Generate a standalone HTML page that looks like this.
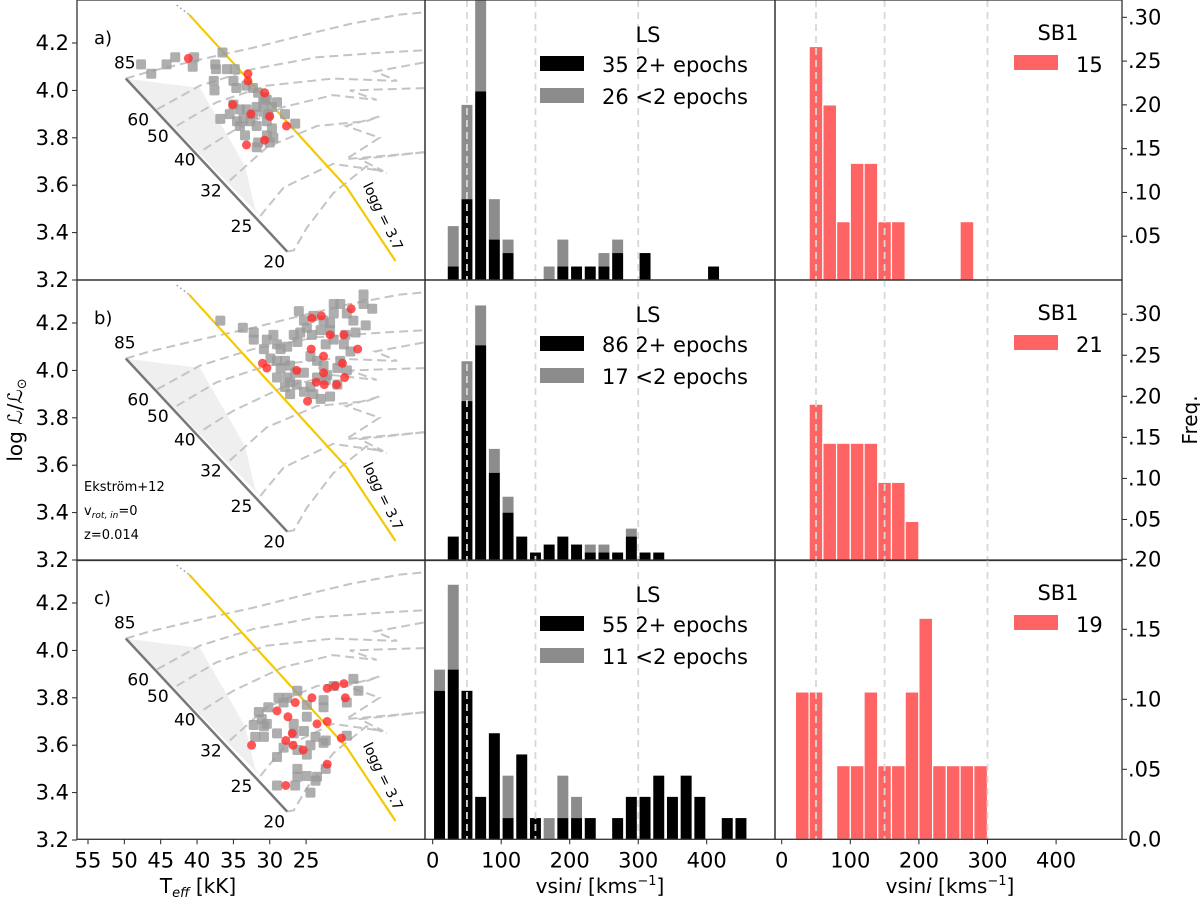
<!DOCTYPE html>
<html><head><meta charset="utf-8"><style>
html,body{margin:0;padding:0;background:#fff}
svg{display:block;font-family:"DejaVu Sans","Liberation Sans",sans-serif}
</style></head><body>
<svg id="fig" width="1200" height="903" viewBox="0 0 1200 903" xmlns="http://www.w3.org/2000/svg">
<defs>
<clipPath id="clipL0"><rect x="77" y="0" width="348" height="280"/></clipPath>
<clipPath id="clipL1"><rect x="77" y="280" width="348" height="280"/></clipPath>
<clipPath id="clipL2"><rect x="77" y="560" width="348" height="279"/></clipPath>
<clipPath id="clipM0"><rect x="425" y="0" width="350" height="280"/></clipPath>
<clipPath id="clipM1"><rect x="425" y="280" width="350" height="280"/></clipPath>
<clipPath id="clipM2"><rect x="425" y="560" width="350" height="279"/></clipPath>
</defs>
<g id="layer"></g>
<text transform="translate(22,420) rotate(-90)" text-anchor="middle" font-size="20">log <tspan font-style="italic">ℒ</tspan>/<tspan font-style="italic">ℒ</tspan><tspan font-size="13" dy="4">⊙</tspan></text>
<text transform="translate(1197,420) rotate(-90)" text-anchor="middle" font-size="20">Freq.</text>
<text x="198" y="893" text-anchor="middle" font-size="20">T<tspan font-size="13" dy="4" font-style="italic">eff</tspan><tspan dy="-4"> [kK]</tspan></text>
<text x="600" y="893" text-anchor="middle" font-size="20">vsin<tspan font-style="italic">i</tspan> [kms<tspan font-size="13" dy="-8">−1</tspan><tspan dy="8">]</tspan></text>
<text x="950" y="893" text-anchor="middle" font-size="20">vsin<tspan font-style="italic">i</tspan> [kms<tspan font-size="13" dy="-8">−1</tspan><tspan dy="8">]</tspan></text>
</svg>
<script>
// ---------- DATA ----------
const binWidth = 20;
const lsBlackA = [0,1,6,14,3,2,0,0,0,1,1,1,1,2,0,2,0,0,0,0,1,0,0,0];
const lsGrayA  = [0,3,7,7,3,1,0,0,1,2,0,0,1,1,0,0,0,0,0,0,0,0,0,0];
const lsBlackB = [0,3,20,27,11,6,3,1,2,3,2,1,1,1,3,1,1,0,0,0,0,0,0,0];
const lsGrayB  = [0,0,5,5,3,2,0,0,0,0,0,1,1,0,1,0,0,0,0,0,0,0,0,0];
const lsBlackC = [7,8,7,2,5,1,4,1,0,1,1,1,0,1,2,2,3,2,3,2,0,1,1,0];
const lsGrayC  = [1,4,0,0,0,2,0,0,1,2,1,0,0,0,0,0,0,0,0,0,0,0,0,0];
const lsTotals = [65,103,66];
const sb1A = [0,0,4,3,1,2,2,1,1,0,0,0,0,1,0,0];
const sb1B = [0,0,4,3,3,3,3,2,2,1,0,0,0,0,0,0];
const sb1C = [0,2,2,0,1,1,2,1,1,2,3,1,1,1,1,0];
const sb1Totals = [15,21,19];
const lsLegendBlack = ["35 2+ epochs","86 2+ epochs","55 2+ epochs"];
const lsLegendGray  = ["26 <2 epochs","17 <2 epochs","11 <2 epochs"];
const sb1Legend = ["15","21","19"];
const refLines = [50,150,300];
const vTicks = [0,100,200,300,400];
const teffTicks = [55,50,45,40,35,30,25];
const lumTicks = [4.2,4.0,3.8,3.6,3.4,3.2];
const freqTicksAB = [0.05,0.10,0.15,0.20,0.25,0.30];
const freqTickLabelsAB = [".05",".10",".15",".20",".25",".30"];
const freqTicksC = [0,0.05,0.10,0.15,0.20];
const freqTickLabelsC = ["0.0",".05",".10",".15",".20"];
const panelLetters = ["a)","b)","c)"];
const zamsT = [49.8,27.6];
const zamsL = [4.05,3.32];
const massLabels = ["85","60","50","40","32","25","20"];
const massT = [49.8,45.5,42.8,39.1,35.5,31.3,27.6];
const massL = [4.05,3.92,3.85,3.75,3.62,3.47,3.32];
const tracksT = [
 [49.8,46.5,39.6,32.3,25.8,19.0,12.1,8.4],
 [45.5,39.6,32.3,23.5,14.4,8.4],
 [42.8,37.3,30.4,21.3,12.5,15.5,8.4],
 [39.1,35.0,28.1,21.3,15.3,19.0,8.4],
 [35.5,30.4,23.5,16.7,14.9,19.5,14.9,19.5,8.4],
 [31.3,28.1,21.3,14.4,17.6,8.4],
 [27.6,26.7,24.9,21.3,16.7,13.9]];
const tracksL = [
 [4.05,4.08,4.13,4.18,4.23,4.28,4.32,4.33],
 [3.92,4.02,4.09,4.14,4.16,4.17],
 [3.85,3.95,4.02,4.05,4.04,4.08,4.12],
 [3.75,3.83,3.93,3.98,3.96,4.00,4.01],
 [3.62,3.76,3.85,3.87,3.89,3.85,3.80,3.71,3.74],
 [3.47,3.59,3.69,3.66,3.71,3.74],
 [3.32,3.325,3.42,3.565,3.68,3.65]];
const shadeT = [49.8,39.6,33.4,32.0,31.3];
const shadeL = [4.05,4.01,3.68,3.50,3.47];
const loggT = [41.1,19.4,12.7];
const loggL = [4.32,3.59,3.28];
const loggDotT = [42.8,41.1];
const loggDotL = [4.36,4.32];
const grayA_T=[47.7,46.3,44.2,43.0,40.4,40.6,37.5,37.4,35.9,34.8,37.7,37.6,35.0,34.6,33.2,32.3,31.6,36.5,30.4,30.9,31.8,35.0,34.1,35.5,36.8,33.2,32.3,30.9,29.7,33.6,34.5,32.7,31.8,34.1,30.4,29.7,33.4,30.4,29.5,30.0,31.6,31.8,29.0,27.9,26.5,30.7,30.2];
const grayA_L=[4.11,4.07,4.11,4.14,4.14,4.10,4.11,4.09,4.09,4.09,4.04,4.00,4.04,4.01,4.02,4.01,3.99,4.16,3.96,3.95,3.93,3.94,3.92,3.90,3.88,3.92,3.90,3.91,3.93,3.88,3.87,3.87,3.85,3.85,3.87,3.84,3.81,3.81,3.80,3.78,3.78,3.76,3.95,3.90,3.86,3.97,3.90];
const redA_T=[41.2,33.0,33.0,30.7,35.1,32.6,30.0,27.7,33.2,30.7];
const redA_L=[4.135,4.07,4.04,3.99,3.94,3.90,3.89,3.85,3.77,3.79];
const grayB_T=[36.8,33.7,32.2,32.2,30.4,30.8,29.5,29.0,28.5,29.9,29.0,27.9,27.6,26.7,26.2,25.8,24.9,24.2,26.0,25.3,24.0,22.6,23.0,22.3,21.2,21.7,21.2,20.3,21.2,19.4,18.5,17.1,17.1,15.9,18.2,19.8,18.9,20.3,20.7,19.4,23.5,24.4,22.6,22.1,22.3,25.3,26.5,27.6,27.2,27.9,26.3,24.4,25.3,27.2,24.0,23.0,21.7,20.7,23.5,29.0,28.5,27.2,19.6,16.8,21.7];
const grayB_L=[4.21,4.18,4.16,4.13,4.13,4.09,4.15,4.11,4.09,4.05,4.04,4.04,4.10,4.15,4.12,4.16,4.18,4.15,4.25,4.21,4.23,4.21,4.17,4.11,4.13,4.17,4.24,4.28,4.28,4.24,4.21,4.32,4.28,4.26,4.16,4.11,4.08,4.04,4.01,4.00,4.04,4.06,4.02,3.98,3.96,3.99,3.99,3.97,3.95,3.93,3.94,3.93,3.91,3.90,3.90,3.88,3.89,3.94,3.97,3.97,4.01,4.02,4.15,4.19,4.20];
const redB_T=[24.2,22.9,18.8,21.7,19.8,24.3,22.6,17.9,20.0,31.0,30.4,26.3,22.6,19.7,23.6,22.5,20.8,24.8];
const redB_L=[4.22,4.23,4.26,4.15,4.15,4.09,4.06,4.09,4.03,4.03,4.01,4.00,3.99,3.97,3.95,3.94,3.94,3.87];
const grayC_T=[18.5,17.8,21.2,19.4,22.6,22.6,24.9,26.2,27.6,28.8,28.1,31.5,30.2,31.1,30.4,32.2,32.0,30.8,29.0,26.7,24.9,26.7,25.3,23.7,22.6,22.3,19.4,24.4,24.9,26.2,28.1,29.0,26.2,24.9,23.5,22.3,26.2,26.5,29.0,24.4,23.7,30.8];
const grayC_L=[3.88,3.83,3.85,3.78,3.79,3.76,3.77,3.83,3.80,3.80,3.78,3.74,3.76,3.71,3.69,3.685,3.635,3.635,3.65,3.69,3.72,3.65,3.66,3.635,3.61,3.62,3.64,3.60,3.56,3.58,3.59,3.55,3.50,3.47,3.467,3.50,3.467,3.43,3.43,3.40,3.45,3.68];
const redC_T=[21.0,19.8,22.1,19.6,24.2,26.5,29.0,27.5,23.5,22.1,26.9,27.8,26.8,25.4,20.15,32.5,22.1,27.8];
const redC_L=[3.85,3.86,3.84,3.80,3.80,3.78,3.745,3.72,3.69,3.70,3.65,3.62,3.60,3.58,3.63,3.60,3.52,3.43];

// ---------- LAYOUT ----------
const NS="http://www.w3.org/2000/svg";
const layer=document.getElementById('layer');
const rowTop=[0,280,560];
const rowBot=[280,560.5,839.3];
const fScale=[875.6,821,1400];
const L0=77,L1=425,M1=775,R1=1122;
function xT(T){return 88+(55-T)*7.27;}
function yL(L,r){return rowTop[r]+280-(L-3.2)*237;}
function xM(v){return 432.7+v*0.685;}
function xR(v){return 781.7+v*0.686;}
function yF(f,r){return rowBot[r]-f*fScale[r];}
function mk(tag,attrs,parent){const e=document.createElementNS(NS,tag);for(const k in attrs)e.setAttribute(k,attrs[k]);(parent||layer).appendChild(e);return e;}
function txt(s,attrs,parent){const e=mk('text',attrs,parent);e.textContent=s;return e;}

const lsBlack=[lsBlackA,lsBlackB,lsBlackC], lsGray=[lsGrayA,lsGrayB,lsGrayC];
const sb1=[sb1A,sb1B,sb1C];
const gT=[grayA_T,grayB_T,grayC_T], gL=[grayA_L,grayB_L,grayC_L];
const rT=[redA_T,redB_T,redC_T], rL=[redA_L,redB_L,redC_L];

for(let r=0;r<3;r++){
  const top=rowTop[r], bot=rowBot[r];
  const hg=mk('g',{'clip-path':'url(#clipL'+r+')'});
  
  
  let pts=shadeT.map((t,i)=>xT(t)+','+yL(shadeL[i],r)).join(' ');
  const sh=mk('polygon',{points:pts,fill:'#efefef',stroke:'none'},hg);
  
  
  tracksT.forEach((tt,k)=>{
    const p=tt.map((t,i)=>xT(t)+','+yL(tracksL[k][i],r)).join(' ');
    const pl=mk('polyline',{points:p,fill:'none',stroke:'#c4c4c4','stroke-width':2,'stroke-dasharray':'9,5'},hg);
    
    
  });
  const z=mk('line',{x1:xT(zamsT[0]),y1:yL(zamsL[0],r),x2:xT(zamsT[1]),y2:yL(zamsL[1],r),stroke:'#777','stroke-width':2.5},hg);
  
  
  const dl=mk('line',{x1:xT(loggDotT[0]),y1:yL(loggDotL[0],r),x2:xT(loggDotT[1]),y2:yL(loggDotL[1],r),stroke:'#999','stroke-width':1.5,'stroke-dasharray':'1.5,3'},hg);
  
  
  const lg=mk('polyline',{points:loggT.map((t,i)=>xT(t)+','+yL(loggL[i],r)).join(' '),fill:'none',stroke:'#f5c800','stroke-width':2.2},hg);
  
  
  gT[r].forEach((t,i)=>{
    const s=mk('rect',{x:xT(t)-5,y:yL(gL[r][i],r)-5,width:10,height:10,rx:1.5,fill:'#9a9a9a','fill-opacity':0.8},hg);
    
    
  });
  rT[r].forEach((t,i)=>{
    const c=mk('circle',{cx:xT(t),cy:yL(rL[r][i],r),r:4.5,fill:'#ff2a2a','fill-opacity':0.8},hg);
    
    
  });
  massLabels.forEach((m,i)=>{
    const t=txt(m,{x:xT(massT[i])-8,y:yL(massL[i],r)+16,'text-anchor':'end','font-size':17},hg);
    if(i===0){t.setAttribute('text-anchor','middle');t.setAttribute('x',xT(massT[i])-1);t.setAttribute('y',yL(massL[i],r)-10);}
    if(i===6){t.setAttribute('text-anchor','middle');t.setAttribute('x',xT(massT[i])-13);t.setAttribute('y',yL(massL[i],r)+16);}
    
    
  });
  const lgt=txt('',{transform:'translate('+(xT(15.0))+','+(yL(3.46,r))+') rotate(64)','text-anchor':'middle','font-size':14},hg);
  lgt.innerHTML='log<tspan font-style="italic">g</tspan> = 3.7';
  
  
  const pl=txt(panelLetters[r],{x:94,y:top+44,'font-size':18});
  
  
  if(r===1){
    const a=txt('Ekström+12',{x:84,y:top+211,'font-size':13});  
    const b=txt('',{x:84,y:top+235,'font-size':13}); b.innerHTML='v<tspan font-size="9" font-style="italic" dy="3">rot, in</tspan><tspan dy="-3">=0</tspan>';
     
    const c=txt('z=0.014',{x:84,y:top+259,'font-size':13});  
  }
  lumTicks.forEach(v=>{
    const y=yL(v,r);
    if(y<top-1||y>bot+1) return;
    mk('line',{x1:L0-5,x2:L0,y1:y,y2:y,stroke:'#222','stroke-width':1});
    const t=txt(v.toFixed(1),{x:L0-8,y:y+7,'text-anchor':'end','font-size':21});
    
    
  });

  const mg=mk('g',{'clip-path':'url(#clipM'+r+')'});
  
  
  const N=lsTotals[r];
  lsBlack[r].forEach((cnt,i)=>{
    const g=lsGray[r][i];
    const x0=xM(i*binWidth+binWidth*0.1), w=xM(binWidth*0.8)-xM(0);
    if(g>0){
      const b=mk('rect',{x:x0,y:yF((cnt+g)/N,r),width:w,height:yF(cnt/N,r)-yF((cnt+g)/N,r),fill:'#8c8c8c'},mg);
      
      
    }
    if(cnt>0){
      const b=mk('rect',{x:x0,y:yF(cnt/N,r),width:w,height:bot-yF(cnt/N,r),fill:'#000'},mg);
      
      
    }
  });
  refLines.forEach(v=>{
    const l=mk('line',{x1:xM(v),x2:xM(v),y1:top,y2:bot,stroke:'#d8d8d8','stroke-width':1.8,'stroke-dasharray':'7,5'},mg);
    
    
  });
  const lt=txt('LS',{x:648,y:top+42,'text-anchor':'middle','font-size':21});  
  const p1=mk('rect',{x:540,y:top+56,width:44,height:15,fill:'#000'});  
  const t1=txt(lsLegendBlack[r],{x:602,y:top+72,'font-size':21});  
  const p2=mk('rect',{x:540,y:top+88,width:44,height:15,fill:'#8c8c8c'});  
  const t2=txt(lsLegendGray[r],{x:602,y:top+104,'font-size':21});  

  const sg=mk('g',{});
  
  
  sb1[r].forEach((cnt,i)=>{
    if(cnt<=0) return;
    const f=cnt/sb1Totals[r];
    const b=mk('rect',{x:xR(i*binWidth),y:yF(f,r),width:xR(binWidth)-xR(0),height:bot-yF(f,r),fill:'#ff6464',stroke:'#fff','stroke-width':1.2},sg);
    
    
  });
  refLines.forEach(v=>{
    const l=mk('line',{x1:xR(v),x2:xR(v),y1:top,y2:bot,stroke:'#d8d8d8','stroke-width':1.8,'stroke-dasharray':'7,5'});
    
    
  });
  const st=txt('SB1',{x:1058,y:top+40,'text-anchor':'middle','font-size':21});  
  const sp=mk('rect',{x:1014,y:top+55,width:44,height:15,fill:'#ff6464'});  
  const stx=txt(sb1Legend[r],{x:1076,y:top+72,'font-size':21});  
  const ft=r<2?freqTicksAB:freqTicksC, fl=r<2?freqTickLabelsAB:freqTickLabelsC;
  ft.forEach((v,i)=>{
    const y=yF(v,r);
    mk('line',{x1:R1,x2:R1+5,y1:y,y2:y,stroke:'#222','stroke-width':1});
    const t=txt(fl[i],{x:R1+6,y:y+7,'font-size':21});
    
    
  });
  [[L0,L1],[L1,M1],[M1,R1]].forEach(([a,b],k)=>{
    const fr=mk('rect',{x:a,y:top,width:b-a,height:bot-top,fill:'none',stroke:'#333','stroke-width':1.3});
    
    
  });
}
const yb=rowBot[2];
teffTicks.forEach(t=>{
  mk('line',{x1:xT(t),x2:xT(t),y1:yb,y2:yb+5,stroke:'#222'});
  const e=txt(String(t),{x:xT(t),y:yb+28,'text-anchor':'middle','font-size':21});
  
  
});
vTicks.forEach(v=>{
  mk('line',{x1:xM(v),x2:xM(v),y1:yb,y2:yb+5,stroke:'#222'});
  const a=txt(String(v),{x:xM(v),y:yb+28,'text-anchor':'middle','font-size':21});
  
  
  mk('line',{x1:xR(v),x2:xR(v),y1:yb,y2:yb+5,stroke:'#222'});
  const b=txt(String(v),{x:xR(v),y:yb+28,'text-anchor':'middle','font-size':21});
  
  
});
</script>
</body></html>
